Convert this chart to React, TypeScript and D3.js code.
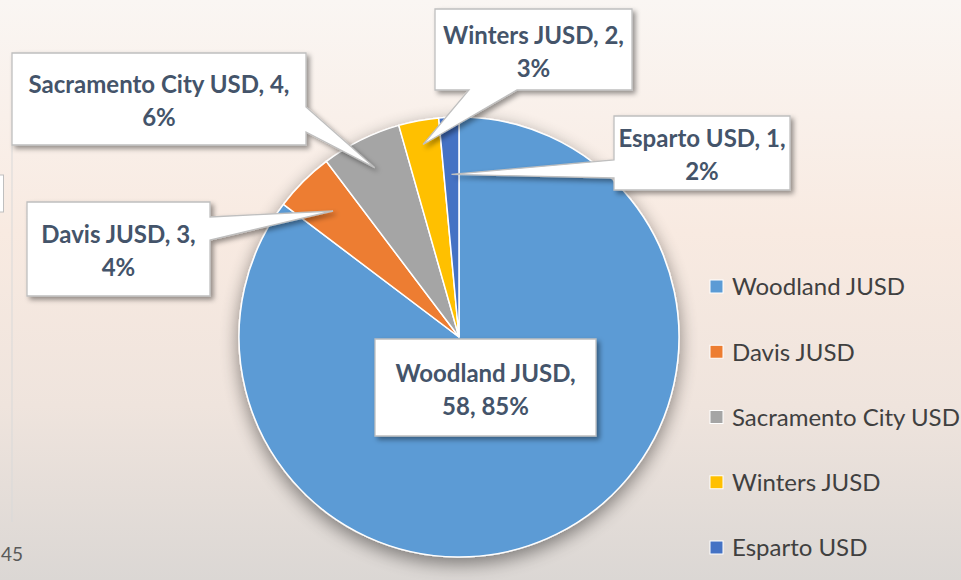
import React from 'react';
import * as d3 from 'd3';

const districts = ['Woodland JUSD', 'Davis JUSD', 'Sacramento City USD', 'Winters JUSD', 'Esparto USD'];
const counts = [58, 3, 4, 2, 1];
// percentages as printed on the labels
const percentLabels = ['85%', '4%', '6%', '3%', '2%'];
const colours = ['#5b9bd5', '#ed7d31', '#a5a5a5', '#ffc000', '#4472c4'];

// callout layout: box, which edge the pointer leaves from, pointer base span, tip radius fraction
const callouts = [
  { x: 375, y: 339, w: 221, h: 97, edge: 'none', a: 0, b: 0, tip: 0 },
  { x: 27, y: 202, w: 183, h: 94, edge: 'right', a: 217, b: 240, tip: 0.81 },
  { x: 12, y: 53, w: 294, h: 92, edge: 'right', a: 107, b: 132, tip: 0.86 },
  { x: 435, y: 9, w: 197, h: 81, edge: 'bottom', a: 469, b: 517, tip: 0.89 },
  { x: 614, y: 116, w: 176, h: 74, edge: 'left', a: 160, b: 178, tip: 0.74 },
];

const W = 961;
const H = 580;
const cx = 459;
const cy = 337;
const R = 220;

function calloutPath(c: typeof callouts[number], tx: number, ty: number) {
  const { x, y, w, h, edge, a, b } = c;
  const r = x + w;
  const btm = y + h;
  if (edge === 'right')
    return `M${x},${y}H${r}V${a}L${tx},${ty}L${r},${b}V${btm}H${x}Z`;
  if (edge === 'left')
    return `M${x},${y}H${r}V${btm}H${x}V${b}L${tx},${ty}L${x},${a}Z`;
  if (edge === 'bottom')
    return `M${x},${y}H${r}V${btm}H${b}L${tx},${ty}L${a},${btm}H${x}Z`;
  return `M${x},${y}H${r}V${btm}H${x}Z`;
}

export default function App() {
  const pie = d3.pie<number>().sort(null).value(d => d);
  const arcs = pie(counts);
  const arc = d3.arc<d3.PieArcDatum<number>>().innerRadius(0).outerRadius(R);

  const legendY = d3.scalePoint<string>().domain(districts).range([287, 548]);

  return (
    <div style={{ position: 'fixed', left: 0, top: 0 }}>
      <svg width={W} height={H} style={{ display: 'block' }}>
        <defs>
          <linearGradient id="bg" x1="0" y1="0" x2="0" y2="1">
            <stop offset="0" stopColor="#faf6f3" />
            <stop offset="0.4" stopColor="#f8eae1" />
            <stop offset="0.7" stopColor="#efe4dd" />
            <stop offset="1" stopColor="#dbd7d4" />
          </linearGradient>
          <filter id="pieShadow" x="-30%" y="-30%" width="160%" height="160%">
            <feGaussianBlur in="SourceAlpha" stdDeviation="9" />
            <feOffset dx="0" dy="6" result="b" />
            <feComponentTransfer>
              <feFuncA type="linear" slope="0.45" />
            </feComponentTransfer>
            <feMerge>
              <feMergeNode />
              <feMergeNode in="SourceGraphic" />
            </feMerge>
          </filter>
          <filter id="boxShadow" x="-10%" y="-10%" width="130%" height="140%">
            <feDropShadow dx="3" dy="3" stdDeviation="2.5" floodColor="#000" floodOpacity="0.4" />
          </filter>
        </defs>

        <rect width={W} height={H} fill="url(#bg)" />

        {/* leftovers of the slide next door */}
        <line x1={12} x2={12} y1={145} y2={522} stroke="#d9d9d9" strokeWidth={1} />
        <rect x={-10} y={175} width={13.5} height={37} fill="#fff" stroke="#bfbfbf" />
        <text x={1} y={561} fontFamily="Lato, sans-serif" fontSize={19} fill="#595959">45</text>

        <g transform={`translate(${cx},${cy})`} filter="url(#pieShadow)">
          {arcs.map((d, i) => (
            <path key={districts[i]} d={arc(d) || ''} fill={colours[i]} stroke="#fff" strokeWidth={1.5} />
          ))}
        </g>

        {arcs.map((d, i) => {
          const c = callouts[i];
          const mid = (d.startAngle + d.endAngle) / 2;
          const tx = cx + Math.sin(mid) * R * c.tip;
          const ty = cy - Math.cos(mid) * R * c.tip;
          const lx = c.x + c.w / 2;
          const ly = c.y + c.h / 2;
          const first = i === 0 ? `${districts[i]},` : `${districts[i]}, ${counts[i]},`;
          const second = i === 0 ? `${counts[i]}, ${percentLabels[i]}` : percentLabels[i];
          return (
            <g key={districts[i]}>
              <path d={calloutPath(c, tx, ty)} fill="#fff" stroke="#bfbfbf" strokeWidth={1.3} filter="url(#boxShadow)" />
              <text
                textAnchor="middle"
                fontFamily="Lato, sans-serif"
                fontWeight="bold"
                fontSize={24}
                fill="#44546a"
              >
                <tspan x={lx} y={ly - 6}>{first}</tspan>
                <tspan x={lx} y={ly + 27}>{second}</tspan>
              </text>
            </g>
          );
        })}

        <g>
          {districts.map((name, i) => {
            const y = legendY(name) as number;
            return (
              <g key={name}>
                <rect x={710} y={y - 7} width={13} height={13} fill={colours[i]} stroke="#fff" strokeWidth={1} />
                <text x={732} y={y} dy="0.35em" fontFamily="Lato, sans-serif" fontSize={24} fill="#404040">
                  {name}
                </text>
              </g>
            );
          })}
        </g>
      </svg>
    </div>
  );
}
